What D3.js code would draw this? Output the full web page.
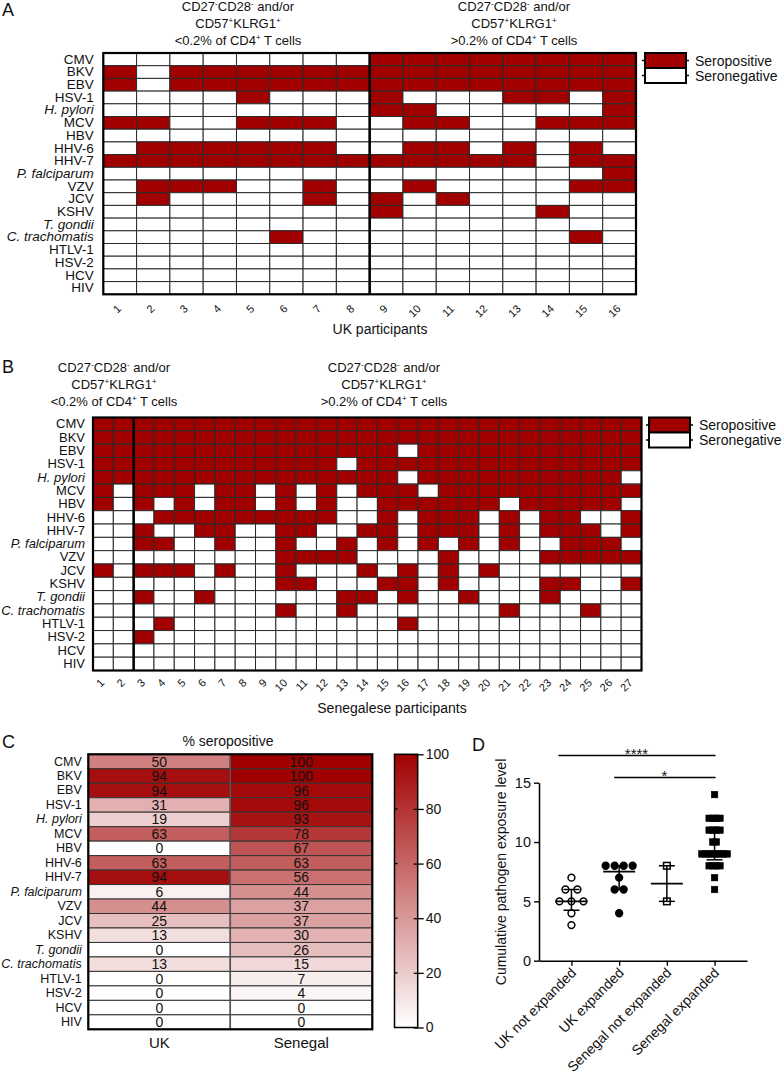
<!DOCTYPE html>
<html><head><meta charset="utf-8">
<script src="https://cdn.jsdelivr.net/npm/d3@7"></script>
<style>
body{margin:0;background:#fff}
svg{display:block}
text{font-family:"Liberation Sans",Arial,Helvetica,sans-serif;fill:#111}
</style>
</head><body>
<svg id="chart" width="782" height="1080"></svg>
<script>
// ---------------- DATA ----------------
const pathogens = ["CMV","BKV","EBV","HSV-1","H. pylori","MCV","HBV","HHV-6","HHV-7","P. falciparum","VZV","JCV","KSHV","T. gondii","C. trachomatis","HTLV-1","HSV-2","HCV","HIV"];
const italicPathogens = ["H. pylori","P. falciparum","T. gondii","C. trachomatis"];

const ukParticipants = ["1","2","3","4","5","6","7","8","9","10","11","12","13","14","15","16"];
// 1 = seropositive, 0 = seronegative, one string per pathogen (participants 1..16)
const ukSerostatus = [
  "0000000011111111", // CMV
  "1011111111111111", // BKV
  "1011111111111111", // EBV
  "0000100010001101", // HSV-1
  "0000000011000001", // H. pylori
  "1100111001100111", // MCV
  "0000000000000000", // HBV
  "0111111001101010", // HHV-6
  "1111111111111011", // HHV-7
  "0000000000000001", // P. falciparum
  "0111001001000011", // VZV
  "0100001010100000", // JCV
  "0000000010000100", // KSHV
  "0000000000000000", // T. gondii
  "0000010000000010", // C. trachomatis
  "0000000000000000", // HTLV-1
  "0000000000000000", // HSV-2
  "0000000000000000", // HCV
  "0000000000000000"  // HIV
];

const senegalParticipants = ["1","2","3","4","5","6","7","8","9","10","11","12","13","14","15","16","17","18","19","20","21","22","23","24","25","26","27"];
const senegalSerostatus = [
  "111111111111111111111111111", // CMV
  "111111111111111111111111111", // BKV
  "111111111111111011111111111", // EBV
  "111111111111011111111111111", // HSV-1
  "111111111111111011111111110", // H. pylori
  "101110110101011101111111111", // MCV
  "101010110101001111110111110", // HBV
  "000111111111001011101011001", // HHV-6
  "001001100110011011101011101", // HHV-7
  "001100100100101010101001110", // P. falciparum
  "000000000111100001000011111", // VZV
  "101110100100010101010000000", // JCV
  "000000000110001101000011001", // KSHV
  "001001000000110100100010000", // T. gondii
  "000000000100100000001000100", // C. trachomatis
  "000100000000000100000000000", // HTLV-1
  "001000000000000000000000000", // HSV-2
  "000000000000000000000000000", // HCV
  "000000000000000000000000000"  // HIV
];
const legendLabels = ["Seropositive","Seronegative"];

const ukPercent      = [50,94,94,31,19,63,0,63,94,6,44,25,13,0,13,0,0,0,0];
const senegalPercent = [100,100,96,96,93,78,67,63,56,44,37,37,30,26,15,7,4,0,0];
const heatColumns = ["UK","Senegal"];
const colorbarTicks = [0,20,40,60,80,100];

const exposureGroups = ["UK not expanded","UK expanded","Senegal not expanded","Senegal expanded"];
const ukNotExpanded      = [7,6,6,5,5,5,4,3];
const ukExpanded         = [8,8,8,8,7,6,6,4];
const senegalNotExpanded = [8,5];
const senegalExpanded    = [14,12,12,12,12,11,11,11,11,10,10,9,9,9,9,9,9,9,9,8,8,8,8,7,6];
const exposureTicks = [0,5,10,15];

const headerLow  = [["CD27","^-","CD28","^-"," and/or"],["CD57","^+","KLRG1","^+"],["<0.2% of CD4","^+"," T cells"]];
const headerHigh = [["CD27","^-","CD28","^-"," and/or"],["CD57","^+","KLRG1","^+"],[">0.2% of CD4","^+"," T cells"]];

// ---------------- DRAWING ----------------
const RED = "#a00000";
const FONT = '"Liberation Sans",Arial,sans-serif';
const svg = d3.select("#chart");

function richLine(sel, x, y, parts, size){
  const t = sel.append("text").attr("x",x).attr("y",y).attr("text-anchor","middle").attr("font-size",size);
  let up = false;
  parts.forEach(p=>{
    const sup = p.startsWith("^");
    const s = t.append("tspan").text(sup ? p.slice(1) : p);
    if (sup){ s.attr("font-size", size*0.62); if(!up){ s.attr("dy", -5); up = true; } }
    else if (up){ s.attr("dy", 5); up = false; }
  });
}
function header(sel, x, y0, lines){
  lines.forEach((ln,i)=>richLine(sel, x, y0 + i*17, ln, 13));
}
function panelLabel(x,y,txt){
  svg.append("text").attr("x",x).attr("y",y).attr("font-size",18).text(txt);
}

function drawGrid(cfg){
  const g = svg.append("g");
  const x = d3.scaleBand().domain(cfg.participants).range([cfg.x0,cfg.x1]);
  const y = d3.scaleBand().domain(pathogens).range([cfg.y0,cfg.y1]);
  pathogens.forEach((p,i)=>{
    cfg.participants.forEach((q,j)=>{
      g.append("rect").attr("x",x(q)).attr("y",y(p))
        .attr("width",x.bandwidth()).attr("height",y.bandwidth())
        .attr("fill", cfg.matrix[i][j]==="1" ? RED : "#fff")
        .attr("stroke","#2a2a2a").attr("stroke-width",1);
    });
  });
  g.append("rect").attr("x",cfg.x0).attr("y",cfg.y0).attr("width",cfg.x1-cfg.x0).attr("height",cfg.y1-cfg.y0)
    .attr("fill","none").attr("stroke","#000").attr("stroke-width",2.2);
  const sx = x(cfg.participants[cfg.sep]);
  g.append("line").attr("x1",sx).attr("x2",sx).attr("y1",cfg.y0).attr("y2",cfg.y1)
    .attr("stroke","#000").attr("stroke-width",2.6);
  // row labels
  const ya = g.append("g").attr("transform",`translate(${cfg.x0},0)`)
    .call(d3.axisLeft(y).tickSize(0).tickPadding(cfg.labelPad));
  ya.select(".domain").remove();
  ya.selectAll("text").attr("font-size",cfg.labelSize).attr("fill","#111").attr("font-family",FONT)
    .attr("font-style",d=>italicPathogens.includes(d)?"italic":"normal");
  // column labels
  const xa = g.append("g").attr("transform",`translate(0,${cfg.y1})`)
    .call(d3.axisBottom(x).tickSize(0));
  xa.select(".domain").remove();
  xa.selectAll("text").attr("font-size",11).attr("fill","#000").attr("font-family",FONT)
    .attr("text-anchor","end").attr("x",2).attr("y",cfg.tickOff).attr("dy",0)
    .attr("transform",`rotate(-45,2,${cfg.tickOff})`);
  // axis title
  g.append("text").attr("x",cfg.titleX).attr("y",cfg.titleY).attr("text-anchor","middle")
    .attr("font-size",14).text(cfg.title);
  // legend
  const lg = svg.append("g");
  legendLabels.forEach((l,i)=>{
    const ly = cfg.y0 + i*15;
    lg.append("rect").attr("x",cfg.legX).attr("y",ly).attr("width",41).attr("height",15)
      .attr("fill", i===0?RED:"#fff").attr("stroke","#000").attr("stroke-width",2);
    lg.append("line").attr("x1",cfg.legX-3).attr("x2",cfg.legX).attr("y1",ly+7.5).attr("y2",ly+7.5).attr("stroke","#000").attr("stroke-width",1.5);
    lg.append("line").attr("x1",cfg.legX+41).attr("x2",cfg.legX+44).attr("y1",ly+7.5).attr("y2",ly+7.5).attr("stroke","#000").attr("stroke-width",1.5);
    lg.append("text").attr("x",cfg.legX+50).attr("y",ly+12.5).attr("font-size",14).text(l);
  });
}

// Panel A
panelLabel(2,16,"A");
header(svg, 238, 11, headerLow);
header(svg, 514, 11, headerHigh);
drawGrid({participants:ukParticipants, matrix:ukSerostatus, x0:103.3, x1:636, y0:53, y1:294.3, sep:8,
  labelPad:9.5, labelSize:13.5, tickOff:15, title:"UK participants", titleX:380, titleY:334, legX:645});

// Panel B
panelLabel(2,373,"B");
header(svg, 114, 372, headerLow);
header(svg, 384, 372, headerHigh);
drawGrid({participants:senegalParticipants, matrix:senegalSerostatus, x0:93, x1:641.5, y0:417.5, y1:670.5, sep:2,
  labelPad:8, labelSize:13, tickOff:13, title:"Senegalese participants", titleX:392, titleY:713, legX:649});

// Panel C
panelLabel(2,748,"C");
{
  const g = svg.append("g");
  const x0=88.3, x1=372.3, y0=754.3, y1=1029.3;
  const x = d3.scaleBand().domain(heatColumns).range([x0,x1]);
  const y = d3.scaleBand().domain(pathogens).range([y0,y1]);
  const color = d3.scaleLinear().domain([0,100]).range(["#ffffff",RED]);
  const cols = [ukPercent, senegalPercent];
  g.append("text").attr("x",228).attr("y",746).attr("text-anchor","middle").attr("font-size",14).text("% seropositive");
  heatColumns.forEach((c,ci)=>{
    pathogens.forEach((p,i)=>{
      const v = cols[ci][i];
      g.append("rect").attr("x",x(c)).attr("y",y(p)).attr("width",x.bandwidth()).attr("height",y.bandwidth())
        .attr("fill",color(v)).attr("stroke","#333").attr("stroke-width",1);
      g.append("text").attr("x",x(c)+x.bandwidth()/2).attr("y",y(p)+y.bandwidth()/2).attr("dy","0.36em")
        .attr("text-anchor","middle").attr("font-size",14).attr("fill","#1a1a1a").text(v);
    });
  });
  g.append("line").attr("x1",x("Senegal")).attr("x2",x("Senegal")).attr("y1",y0).attr("y2",y1).attr("stroke","#555").attr("stroke-width",1.5);
  g.append("rect").attr("x",x0).attr("y",y0).attr("width",x1-x0).attr("height",y1-y0).attr("fill","none").attr("stroke","#000").attr("stroke-width",2.2);
  const ya = g.append("g").attr("transform",`translate(${x0},0)`).call(d3.axisLeft(y).tickSize(0).tickPadding(6.5));
  ya.select(".domain").remove();
  ya.selectAll("text").attr("font-size",12.5).attr("fill","#111").attr("font-family",FONT)
    .attr("font-style",d=>italicPathogens.includes(d)?"italic":"normal");
  const xa = g.append("g").attr("transform",`translate(0,${y1})`).call(d3.axisBottom(x).tickSize(0).tickPadding(8));
  xa.select(".domain").remove();
  xa.selectAll("text").attr("font-size",15).attr("fill","#111").attr("font-family",FONT);

  // colour bar
  const cbx=394.5, cbw=23.2, cbt=754.3, cbb=1027.5;
  const grad = svg.append("defs").append("linearGradient").attr("id","cbg").attr("x1",0).attr("x2",0).attr("y1",1).attr("y2",0);
  grad.append("stop").attr("offset","0%").attr("stop-color",color(0));
  grad.append("stop").attr("offset","100%").attr("stop-color",color(100));
  g.append("rect").attr("x",cbx).attr("y",cbt).attr("width",cbw).attr("height",cbb-cbt).attr("fill","url(#cbg)")
    .attr("stroke","#000").attr("stroke-width",1.5);
  const cs = d3.scaleLinear().domain([0,100]).range([cbb,cbt]);
  const ca = g.append("g").attr("transform",`translate(${cbx+cbw+2},0)`)
    .call(d3.axisRight(cs).tickValues(colorbarTicks).tickSize(4).tickPadding(2).tickSizeOuter(0));
  ca.select(".domain").remove();
  ca.selectAll("line").attr("stroke","#000").attr("stroke-width",1.3).attr("x1",-6);
  ca.selectAll("text").attr("font-size",14).attr("fill","#111").attr("font-family",FONT);
  colorbarTicks.slice(1,-1).forEach(t=>{
    g.append("line").attr("x1",cbx).attr("x2",cbx+3).attr("y1",cs(t)).attr("y2",cs(t)).attr("stroke","#000").attr("stroke-width",1.3);
  });
}

// Panel D
panelLabel(472,751,"D");
{
  const g = svg.append("g");
  const ax0=539, ax1=747, yb=960.7, yt=782.7;
  const x = d3.scalePoint().domain(exposureGroups).range([ax0,ax1]).padding(0.68);
  const y = d3.scaleLinear().domain([0,15]).range([yb,yt]);
  const ya = g.append("g").attr("transform",`translate(${ax0},0)`)
    .call(d3.axisLeft(y).tickValues(exposureTicks).tickSize(5).tickPadding(3).tickSizeOuter(0));
  ya.select(".domain").attr("stroke-width",1.6);
  ya.selectAll("line").attr("stroke-width",1.4);
  ya.selectAll("text").attr("font-size",14.5).attr("fill","#111").attr("font-family",FONT);
  const xa = g.append("g").attr("transform",`translate(0,${yb})`)
    .call(d3.axisBottom(x).tickSize(5).tickSizeOuter(0));
  xa.select(".domain").attr("stroke-width",1.6);
  xa.selectAll("line").attr("stroke-width",1.4);
  xa.selectAll("text").attr("font-size",14).attr("fill","#111").attr("font-family",FONT)
    .attr("text-anchor","end").attr("x",5).attr("y",13).attr("dy",0).attr("transform","rotate(-45,5,13)");
  g.append("text").attr("transform",`translate(506,872) rotate(-90)`).attr("text-anchor","middle")
    .attr("font-size",14).text("Cumulative pathogen exposure level");

  const series = [ukNotExpanded, ukExpanded, senegalNotExpanded, senegalExpanded];
  const spacing = [12, 9, 8, 3.6];
  function gq(arr,p){ // quantile, (n+1) method
    const s = arr.slice().sort((a,b)=>a-b), n=s.length, pos=(n+1)*p;
    if (pos<=1) return s[0]; if (pos>=n) return s[n-1];
    const lo=Math.floor(pos); return s[lo-1]+(pos-lo)*(s[lo]-s[lo-1]);
  }
  series.forEach((vals,gi)=>{
    const cx = x(exposureGroups[gi]);
    const med = gq(vals,0.5), q1=gq(vals,0.25), q3=gq(vals,0.75);
    const byVal = d3.group(vals, v=>v);
    byVal.forEach((arr,v)=>{
      arr.forEach((_,k)=>{
        const px = cx + (k-(arr.length-1)/2)*spacing[gi];
        const py = y(v);
        if (gi<2){
          g.append("circle").attr("cx",px).attr("cy",py).attr("r",3.4)
            .attr("fill", gi===0?"#fff":"#000").attr("stroke","#000").attr("stroke-width",1.5);
        } else {
          g.append("rect").attr("x",px-3.3).attr("y",py-3.3).attr("width",6.6).attr("height",6.6)
            .attr("fill", gi===2?"#fff":"#000").attr("stroke","#000").attr("stroke-width",gi===2?1.5:0.5);
        }
      });
    });
    g.append("line").attr("x1",cx).attr("x2",cx).attr("y1",y(q1)).attr("y2",y(q3)).attr("stroke","#000").attr("stroke-width",1.5);
    g.append("line").attr("x1",cx-16).attr("x2",cx+16).attr("y1",y(med)).attr("y2",y(med)).attr("stroke","#000").attr("stroke-width",1.8);
    [q1,q3].forEach(q=>g.append("line").attr("x1",cx-8).attr("x2",cx+8).attr("y1",y(q)).attr("y2",y(q)).attr("stroke","#000").attr("stroke-width",1.5));
  });
  const sig = [{a:0,b:3,y:755.5,t:"****"},{a:1,b:3,y:777.5,t:"*"}];
  sig.forEach(s=>{
    const xb = x(exposureGroups[s.b]);
    const x1 = s.a===0 ? x(exposureGroups[s.a]) - 13 : x(exposureGroups[s.a]) - 5;
    g.append("line").attr("x1",x1).attr("x2",xb+1).attr("y1",s.y).attr("y2",s.y).attr("stroke","#000").attr("stroke-width",1.3);
    g.append("text").attr("x",(x1+xb)/2).attr("y",s.y+3).attr("text-anchor","middle").attr("font-size",15).text(s.t);
  });
}
</script>
</body></html>
